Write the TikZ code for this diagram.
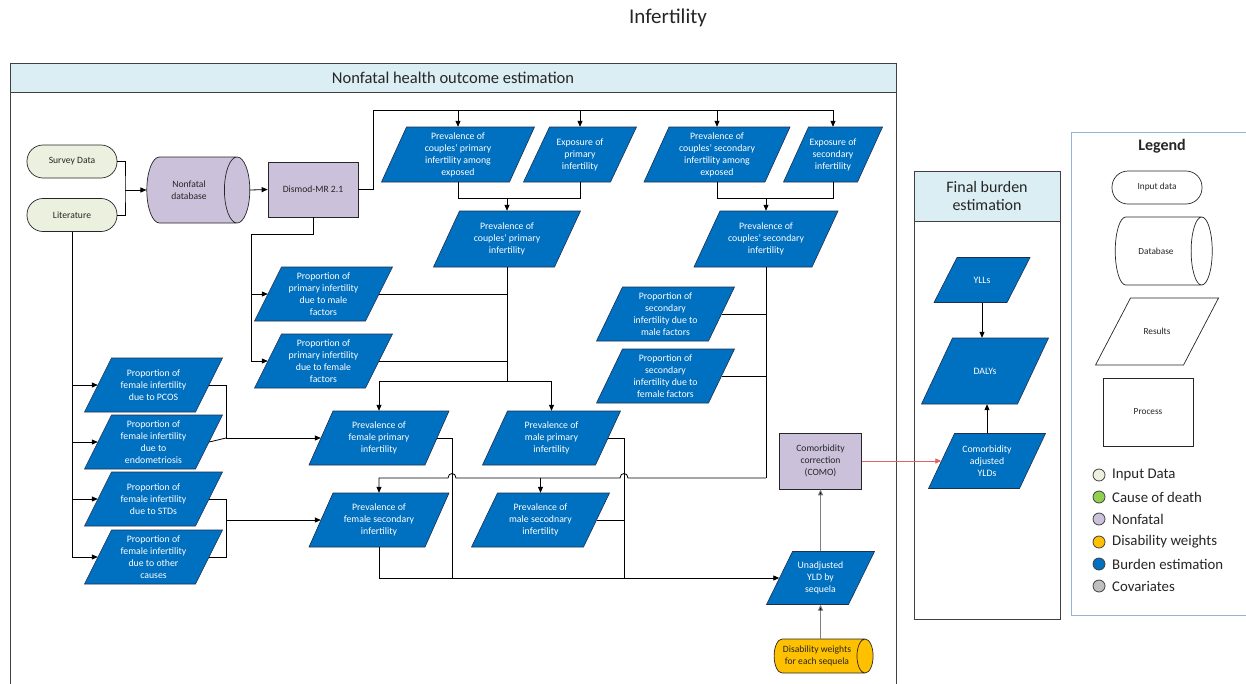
\documentclass[tikz,border=0pt]{standalone}
\usepackage{fontspec}
\setmainfont{Carlito}
\usetikzlibrary{shapes.geometric,arrows.meta}
\definecolor{hdr}{HTML}{DAEEF3}
\definecolor{lav}{HTML}{CCC1DA}
\definecolor{pale}{HTML}{EBF1DE}
\definecolor{burden}{HTML}{0070C0}
\definecolor{dwc}{HTML}{FFC000}
\definecolor{cod}{HTML}{92D050}
\definecolor{cov}{HTML}{BFBFBF}
\definecolor{edge}{HTML}{1F2F4F}
\definecolor{frame}{HTML}{404040}
\definecolor{legframe}{HTML}{95B3D7}
\definecolor{redarr}{HTML}{E06666}
\definecolor{txt}{HTML}{262626}
\newcommand\mypara[8][blue]{%
  \path[pshape#1] ({#3-#5/2-#7/2},{#4+#6/2}) -- ({#3-#5/2+#7/2},{#4-#6/2}) -- ({#3+#5/2+#7/2},{#4-#6/2}) -- ({#3+#5/2-#7/2},{#4+#6/2}) -- cycle;
  \node[ptext#1, minimum width=#5pt, minimum height=#6pt] (#2) at (#3,#4) {#8};}
\tikzset{
  pshapeblue/.style={fill=burden, draw=edge, line width=0.6pt},
  ptextblue/.style={inner sep=0pt, align=center, text=white, font=\fontsize{9.8}{12}\selectfont},
  pshapewhite/.style={fill=white, draw=txt, line width=0.7pt},
  ptextwhite/.style={inner sep=0pt, align=center, text=txt, font=\fontsize{9.3}{11}\selectfont},
  smalltext/.style={align=center, text=txt, font=\fontsize{9.6}{12}\selectfont},
  pill/.style={rectangle, rounded corners=16pt, draw=txt, line width=0.7pt, fill=pale, minimum width=90pt, minimum height=33pt, smalltext},
  proc/.style={rectangle, draw=txt, line width=0.7pt, fill=lav, smalltext},
  db/.style={cylinder, aspect=1.0, draw=txt, line width=0.7pt, fill=lav, smalltext},
  line/.style={draw=black, line width=0.8pt},
  arr/.style={line, -{Triangle[length=6pt,width=5pt]}},
  arrgray/.style={draw=gray, line width=0.9pt, -{Triangle[length=6pt,width=5pt,fill=black]}},
  arrred/.style={draw=redarr, line width=0.8pt, -{Triangle[length=6pt,width=5pt]}},
  boxframe/.style={draw=frame, line width=1pt},
  hdrbox/.style={fill=hdr, draw=frame, line width=1pt},
  hdrtext/.style={align=center, text=txt, font=\fontsize{16.5}{19}\selectfont},
  dot/.style={circle, minimum size=12pt, inner sep=0pt, draw=frame, line width=0.8pt},
  legtext/.style={anchor=west, text=txt, font=\fontsize{14.8}{17}\selectfont, inner sep=0pt},
}
\begin{document}
\begin{tikzpicture}[x=1pt,y=-1pt]
\useasboundingbox (0,0) rectangle (1246,683);
\fill[white] (0,0) rectangle (1246,683);
\node[text=txt, font=\fontsize{21}{24}\selectfont] (title) at (668,18) {Infertility};
% frames
\draw[boxframe] (10,63) rectangle (896,700);
\path[hdrbox] (10,63) rectangle (896,92);
\node[hdrtext] (nfh) at (453,77.5) {Nonfatal health outcome estimation};
\draw[boxframe] (914,171) rectangle (1060,619);
\path[hdrbox] (914,171) rectangle (1060,221);
\node[hdrtext, font=\fontsize{16}{18}\selectfont] (fbh) at (987,196) {Final burden\\estimation};
\draw[draw=legframe, line width=1pt] (1071,132) rectangle (1260,615);
% inputs and processes
\node[pill] (SD) at (72,161.5) {Survey Data};
\node[pill] (LIT) at (72,215) {Literature};
\node[db, minimum height=103pt, minimum width=66pt] (NDB) at (189,190) {Nonfatal\\database};
\node[proc, minimum width=90pt, minimum height=55pt] (DIS) at (313,189.5) {Dismod-MR 2.1};
\node[proc, minimum width=82pt, minimum height=56pt] (COMO) at (820.5,461) {Comorbidity\\correction\\(COMO)};
\node[db, fill=dwc, minimum height=99pt, minimum width=34pt, aspect=0.6] (DW) at (817,656) {Disability weights\\for each sequela};
% results
\mypara{P1}{458}{154.5}{128}{55}{25}{Prevalence of\\couples’ primary\\infertility among\\exposed}
\mypara{P2}{580}{154.5}{87}{55}{26}{Exposure of\\primary\\infertility}
\mypara{P3}{717}{154.5}{121}{55}{25}{Prevalence of\\couples’ secondary\\infertility among\\exposed}
\mypara{P4}{833}{154.5}{74}{55}{25}{Exposure of\\secondary\\infertility}
\mypara{C1}{507}{239}{121}{56}{26}{Prevalence of\\couples’ primary\\infertility}
\mypara{C2}{766}{239}{118}{56}{26}{Prevalence of\\couples’ secondary\\infertility}
\mypara{PMm}{323.5}{294}{111}{54}{27}{Proportion of\\primary infertility\\due to male\\factors}
\mypara{PMf}{323.5}{361}{111}{54}{27}{Proportion of\\primary infertility\\due to female\\factors}
\mypara{PSm}{665.5}{314}{112}{54}{26}{Proportion of\\secondary\\infertility due to\\male factors}
\mypara{PSf}{665.5}{376}{112}{54}{26}{Proportion of\\secondary\\infertility due to\\female factors}
\mypara{F1}{153.5}{385}{111}{54}{27}{Proportion of\\female infertility\\due to PCOS}
\mypara{F2}{153.5}{442}{111}{54}{27}{Proportion of\\female infertility\\due to\\endometriosis}
\mypara{F3}{153.5}{499}{111}{54}{27}{Proportion of\\female infertility\\due to STDs}
\mypara{F4}{153.5}{557}{111}{54}{27}{Proportion of\\female infertility\\due to other\\causes}
\mypara{FP}{379}{438}{116}{54}{24}{Prevalence of\\female primary\\infertility}
\mypara{FS}{379}{520}{116}{54}{24}{Prevalence of\\female secondary\\infertility}
\mypara{MP}{551.5}{438}{113}{54}{25}{Prevalence of\\male primary\\infertility}
\mypara{MS}{540.5}{520}{112}{54}{26}{Prevalence of\\male secodnary\\infertility}
\mypara{UY}{820.5}{578}{82}{53}{26}{Unadjusted\\YLD by\\sequela}
\mypara{YLL}{982}{280}{73}{45}{23}{YLLs}
\mypara{DALY}{985}{371}{96}{66}{31}{DALYs}
\mypara{CAY}{987}{461}{91}{55}{26}{Comorbidity\\adjusted\\YLDs}
% connectors
\coordinate (jIn) at (125,190);
\draw[line] (SD.east) -| (jIn) |- (LIT.east);
\draw[arr] (jIn) -- (NDB.west);
\draw[arr] (NDB.east) -- (DIS.west);
\coordinate (jTop) at (373,110);
\draw[line] (DIS.east) -| (jTop) -- (P4.north |- jTop);
\foreach \n in {P1,P2,P3,P4} \draw[arr] (\n.north |- jTop) -- (\n.north);
\coordinate (j1) at (0,198);
\draw[line] (P1.south) -- (P1.south |- j1) -- (P2.south |- j1) -- (P2.south);
\draw[arr] (C1.north |- j1) -- (C1.north);
\draw[line] (P3.south) -- (P3.south |- j1) -- (P4.south |- j1) -- (P4.south);
\draw[arr] (C2.north |- j1) -- (C2.north);
\coordinate (jD) at (251,234);
\draw[line] (DIS.south) |- (jD) -- (jD |- PMf.west);
\draw[arr] (jD |- PMm.west) -- (PMm.west);
\draw[arr] (jD |- PMf.west) -- (PMf.west);
\coordinate (jP) at (0,381);
\draw[line] (C1.south) -- (C1.south |- jP);
\draw[line] (PMm.east) -- (PMm.east -| C1.south);
\draw[line] (PMf.east) -- (PMf.east -| C1.south);
\draw[arr] (C1.south |- jP) -| (FP.north);
\draw[arr] (C1.south |- jP) -| (MP.north);
\coordinate (jS) at (0,478);
\draw[line] (C2.south) -- (C2.south |- jS);
\draw[line] (PSm.east) -- (PSm.east -| C2.south);
\draw[line] (PSf.east) -- (PSf.east -| C2.south);
\draw[arr] (C2.south |- jS) -- (628,478) .. controls (628,472) and (620,472) .. (620,478) -- (456,478) .. controls (456,472) and (448,472) .. (448,478) -| (FS.north);
\draw[arr] (MS.north |- jS) -- (MS.north);
\draw[line] (LIT.south) -- (LIT.south |- F4.west);
\foreach \n in {F1,F2,F3,F4} \draw[arr] (LIT.south |- \n.west) -- (\n.west);
\coordinate (jF) at (226,438);
\draw[line] (F1.east) -| (jF);
\draw[line] (F2.east) -- (jF);
\draw[arr] (jF) -- (FP.west);
\coordinate (jG) at (226,520);
\draw[line] (F3.east) -- (F3.east -| jG) -- (F4.east -| jG) -- (F4.east);
\draw[arr] (jG) -- (FS.west);
\coordinate (vF) at (452,578);
\coordinate (vM) at (624,578);
\draw[arr] (FS.south) |- (UY.west);
\draw[line] (FP.east) -| (vF);
\draw[line] (MP.east) -| (vM);
\draw[line] (MS.east) -- (MS.east -| vM);
\draw[arrgray] (UY.north) -- (COMO.south);
\draw[arrgray] (UY.south |- DW.north) -- (UY.south);
\draw[arrred] (COMO.east) -- (CAY.west);
\draw[arr] (YLL.south) -- (YLL.south |- DALY.north);
\draw[arr] (CAY.north) -- (CAY.north |- DALY.south);
% legend
\node[text=txt, font=\bfseries\fontsize{16}{18}\selectfont] (leg) at (1162,146) {Legend};
\node[pill, fill=white, font=\fontsize{9.3}{11}\selectfont] (Lin) at (1157,187.5) {Input data};
\node[db, fill=white, minimum height=97pt, minimum width=68pt, aspect=1.6, font=\fontsize{9.3}{11}\selectfont] (Ldb) at (1156,251) {Database};
\mypara[white]{Lres}{1157}{331.5}{88}{67}{35}{Results}
\node[proc, fill=white, minimum width=90pt, minimum height=68pt, font=\fontsize{9.3}{11}\selectfont] (Lproc) at (1148,412) {Process};
\foreach \c/\t/\y in {pale/Input Data/475, cod/Cause of death/497, lav/Nonfatal/519, dwc/Disability weights/542, burden/Burden estimation/564, cov/Covariates/586} {
  \node[dot, fill=\c] (d\y) at (1099,\y) {};
  \node[legtext] (t\y) at (1112,\y) {\t};
}
\end{tikzpicture}
\end{document}
